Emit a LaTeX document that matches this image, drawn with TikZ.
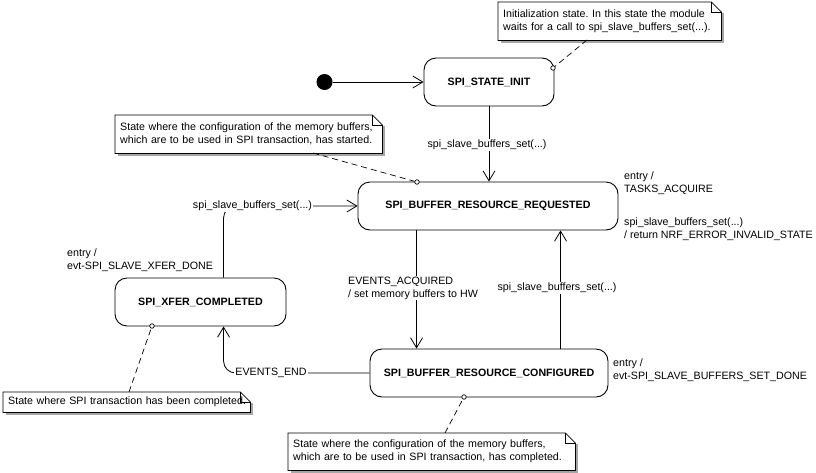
\documentclass[tikz,border=0pt]{standalone}
\usepackage{fontspec}
\setmainfont{Liberation Sans}
\usetikzlibrary{arrows.meta,calc}
\frenchspacing
\newcommand\notedeco[1]{%
  \draw[gray!70, line width=1.6pt] ($(#1.north east)+(1.5,11)$) -- ($(#1.south east)+(1.5,1.5)$) -- ($(#1.south west)+(3,1.5)$);
  \draw[line width=0.7pt] (#1.north west) -- ($(#1.north east)+(-10,0)$) -- ($(#1.north east)+(0,10)$) -- (#1.south east) -- (#1.south west) -- cycle;
  \draw[line width=0.7pt] ($(#1.north east)+(-10,0)$) -- ($(#1.north east)+(-10,10)$) -- ($(#1.north east)+(0,10)$);
}
\begin{document}
\begin{tikzpicture}[x=1pt,y=-1pt, font=\fontsize{10.67}{13}\selectfont,
 state/.style={draw, rounded corners=12pt, line width=0.9pt, inner sep=0pt, font=\fontsize{10.67}{13}\selectfont\bfseries},
 trans/.style={draw, line width=0.8pt, -{Straight Barb[length=10pt,width=12pt]}},
 lbl/.style={fill=white, inner sep=1pt, align=left},
 note/.style={inner xsep=5pt, inner ysep=0pt, align=left, anchor=north west},
 link/.style={draw, dash pattern=on 6pt off 4pt, line width=0.7pt},
 pinc/.style={circle, draw, fill=white, inner sep=0pt, minimum size=4.5pt, line width=0.7pt},
 side/.style={anchor=west, inner sep=0pt, align=left}]
\useasboundingbox (0,0) rectangle (816,472);
\fill[white] (0,0) rectangle (816,472);

% states
\node[circle, fill=black, minimum size=16pt, inner sep=0pt] (dot) at (324.5,82) {};
\node[state, minimum width=130pt, minimum height=48pt] (init) at (489,82) {SPI\_STATE\_INIT};
\node[state, minimum width=260pt, minimum height=48pt] (req) at (488,206) {SPI\_BUFFER\_RESOURCE\_REQUESTED};
\node[state, minimum width=171pt, minimum height=48pt] (xfer) at (200.5,302) {SPI\_XFER\_COMPLETED};
\node[state, minimum width=238pt, minimum height=48pt] (conf) at (489,373) {SPI\_BUFFER\_RESOURCE\_CONFIGURED};

% notes
\node[note, text width=213pt, minimum height=38pt] (n1) at (498,2) {Initialization state. In this state the module\\waits for a call to spi\_slave\_buffers\_set(...).};
\notedeco{n1}
\node[note, text width=257pt, minimum height=38pt] (n2) at (115,115) {State where the configuration of the memory buffers,\\which are to be used in SPI transaction, has started.};
\notedeco{n2}
\node[note, text width=237pt, minimum height=20pt] (n3) at (3,392) {\mbox{State where SPI transaction has been completed.}};
\notedeco{n3}
\node[note, text width=277pt, minimum height=37pt] (n4) at (288,433) {State where the configuration of the memory buffers,\\which are to be used in SPI transaction, has completed.};
\notedeco{n4}

% note links
\coordinate (l1) at (587,40);
\coordinate (l2) at (313,153);
\coordinate (l3) at (129,392);
\coordinate (l4) at (445,433);
\node[pinc] (p1) at (553,68) {};
\node[pinc] (p2) at (417,182) {};
\node[pinc] (p3) at (152,326) {};
\node[pinc] (p4) at (464,397) {};
\draw[link] (l1) -- (p1);
\draw[link] (l2) -- (p2);
\draw[link] (l3) -- (p3);
\draw[link] (l4) -- (p4);

% transitions
\draw[trans] (dot) -- (init);
\draw[trans] (init.south) -- (init.south |- req.north);
\node[lbl] at (487,145) {spi\_slave\_buffers\_set(...)};

\draw[trans] ($(req.south west)+(59,0)$) -- ($(conf.north west)+(47,0)$);
\node[lbl, anchor=west] at (347,288) {EVENTS\_ACQUIRED\\/ set memory buffers to HW};

\draw[trans] ($(conf.north west)+(191,0)$) -- ($(req.south west)+(203,0)$);
\node[lbl] at (557,288) {spi\_slave\_buffers\_set(...)};

\draw[trans, rounded corners=12pt] ($(xfer.north west)+(109,0)$) |- (req.west);
\node[lbl] at (252.5,206) {spi\_slave\_buffers\_set(...)};

\draw[trans, rounded corners=12pt] (conf.west) -| ($(xfer.south west)+(109,0)$);
\node[lbl] at (271,373) {EVENTS\_END};

% internal activities
\node[side] at (624,183) {entry /\\TASKS\_ACQUIRE};
\node[side] at (624,229) {spi\_slave\_buffers\_set(...)\\/ return NRF\_ERROR\_INVALID\_STATE};
\node[side] at (613,370.5) {entry /\\evt-SPI\_SLAVE\_BUFFERS\_SET\_DONE};
\node[side] at (67,260) {entry /\\evt-SPI\_SLAVE\_XFER\_DONE};
\end{tikzpicture}
\end{document}
